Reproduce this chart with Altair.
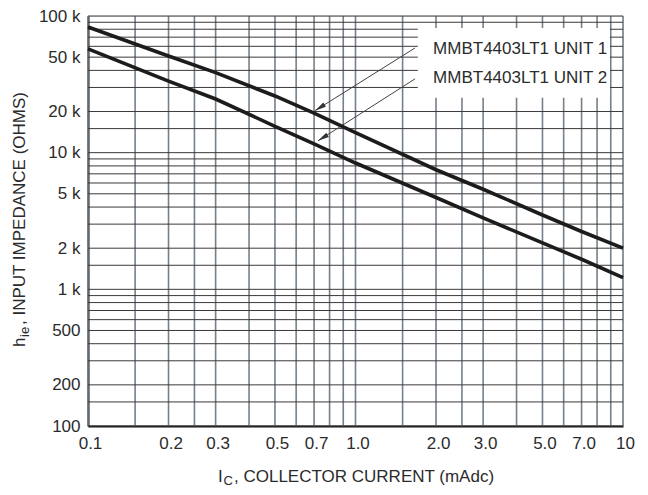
import altair as alt
import pandas as pd

# ---- data ----
ic = [0.1, 0.2, 0.3, 0.5, 0.7, 1.0, 2.0, 3.0, 5.0, 7.0, 10.0]
unit1 = [83000, 51000, 38500, 26000, 19500, 14000, 7500, 5400, 3500, 2650, 2000]
unit2 = [57400, 33400, 24700, 15600, 11600, 8400, 4700, 3330, 2190, 1660, 1220]

x_ticks = [0.1, 0.2, 0.3, 0.5, 0.7, 1.0, 2.0, 3.0, 5.0, 7.0, 10.0]
y_ticks = [100, 200, 500, 1000, 2000, 5000, 10000, 20000, 50000, 100000]

x_grid = [0.1, 0.15, 0.2, 0.25, 0.3, 0.4, 0.5, 0.6, 0.7, 0.8, 0.9,
          1.0, 1.5, 2.0, 2.5, 3.0, 4.0, 5.0, 6.0, 7.0, 8.0, 9.0, 10.0]
y_grid = [m * d for d in (100, 1000, 10000) for m in (1, 1.5, 2, 3, 4, 5, 6, 7, 8, 9)] + [100000]

labels = ["MMBT4403LT1 UNIT 1", "MMBT4403LT1 UNIT 2"]
label_x = [1.95, 1.95]
label_y = [57400, 35200]
arrow_x0 = [1.67, 1.67]
arrow_y0 = [58400, 34700]
arrow_x1 = [0.706, 0.724]
arrow_y1 = [20300, 12200]
box_x = [1.71]
box_x2 = [8.94]
box_y = [81700]
box_y2 = [25200]

FONT = "Liberation Sans"
INK = "#2b2b2b"

curves = pd.DataFrame({
    "ic": ic * 2,
    "hie": unit1 + unit2,
    "unit": ["UNIT 1"] * len(ic) + ["UNIT 2"] * len(ic),
})

xs = alt.Scale(type="log", domain=[0.1, 10])
ys = alt.Scale(type="log", domain=[100, 100000])

x_axis = alt.Axis(values=x_ticks, title=None, grid=False, ticks=False, tickSize=0,
                  labelFont=FONT, labelFontSize=17, labelColor=INK, labelPadding=9,
                  labelFlush=False, labelOffset=2,
                  labelExpr="datum.value < 9.99 ? format(datum.value, '.1f') : format(datum.value, 'd')",
                  domainColor="#111", domainWidth=2)
y_axis = alt.Axis(values=y_ticks, title=None, grid=False, ticks=False, tickSize=0,
                  labelFont=FONT, labelFontSize=17, labelColor=INK, labelPadding=8,
                  labelExpr="datum.value >= 1000 ? format(datum.value / 1000, 'd') + ' k' : format(datum.value, 'd')",
                  domainColor="#111", domainWidth=2)

vgrid = alt.Chart(pd.DataFrame({"g": x_grid})).mark_rule(
    color="#75808a", strokeWidth=1.6).encode(x=alt.X("g:Q", scale=xs, axis=x_axis))
hgrid = alt.Chart(pd.DataFrame({"g": y_grid})).mark_rule(
    color="#3a3a3a", strokeWidth=1.0).encode(y=alt.Y("g:Q", scale=ys, axis=y_axis))

box = alt.Chart(pd.DataFrame({"x": box_x, "x2": box_x2, "y": box_y, "y2": box_y2})).mark_rect(
    color="white").encode(
    x=alt.X("x:Q", scale=xs), x2="x2:Q", y=alt.Y("y:Q", scale=ys), y2="y2:Q")

legend_txt = alt.Chart(pd.DataFrame({"x": label_x, "y": label_y, "t": labels})).mark_text(
    font=FONT, fontSize=17, color=INK, align="left", baseline="middle").encode(
    x=alt.X("x:Q", scale=xs), y=alt.Y("y:Q", scale=ys), text="t:N")

arrows_df = pd.DataFrame({"x0": arrow_x0, "y0": arrow_y0, "x1": arrow_x1, "y1": arrow_y1})
arrow_lines = alt.Chart(arrows_df).mark_rule(color="#444", strokeWidth=1).encode(
    x=alt.X("x0:Q", scale=xs), y=alt.Y("y0:Q", scale=ys), x2="x1:Q", y2="y1:Q")
arrow_heads = alt.Chart(arrows_df).mark_point(
    shape="M0,0 L0.3,1.4 L-0.3,1.4 Z", filled=True, color="#333", size=260, opacity=1,
    angle=238).encode(x=alt.X("x1:Q", scale=xs), y=alt.Y("y1:Q", scale=ys))

lines = alt.Chart(curves).mark_line(color="#1c1c1c", strokeWidth=3.6).encode(
    x=alt.X("ic:Q", scale=xs), y=alt.Y("hie:Q", scale=ys), detail="unit:N")

one = pd.DataFrame({"a": [0]})
def txt(s, x, y, size, angle=0):
    return alt.Chart(one).mark_text(text=s, font=FONT, fontSize=size, color=INK,
                                    align="left", baseline="alphabetic", angle=angle).encode(
        x=alt.value(x), y=alt.value(y))

titles = [
    txt("I", 130, 466, 17),
    txt("C", 135.5, 469, 13),
    txt(", COLLECTOR CURRENT (mAdc)", 146, 466, 17),
    txt("h", -63, 331, 17, 270),
    txt("ie", -59, 321, 13, 270),
    txt(", INPUT IMPEDANCE (OHMS)", -63, 309, 17, 270),
]

chart = alt.layer(vgrid, hgrid, box, legend_txt, arrow_lines, arrow_heads, lines, *titles).properties(
    width=535, height=410,
    autosize=alt.AutoSizeParams(type="none"),
    padding={"left": 80, "top": 8, "right": 17, "bottom": 61},
).configure_view(stroke="#8f9aa2", strokeWidth=1.5).configure(background="white")

chart.save("out.html", embed_options={"renderer": "svg", "actions": False})
